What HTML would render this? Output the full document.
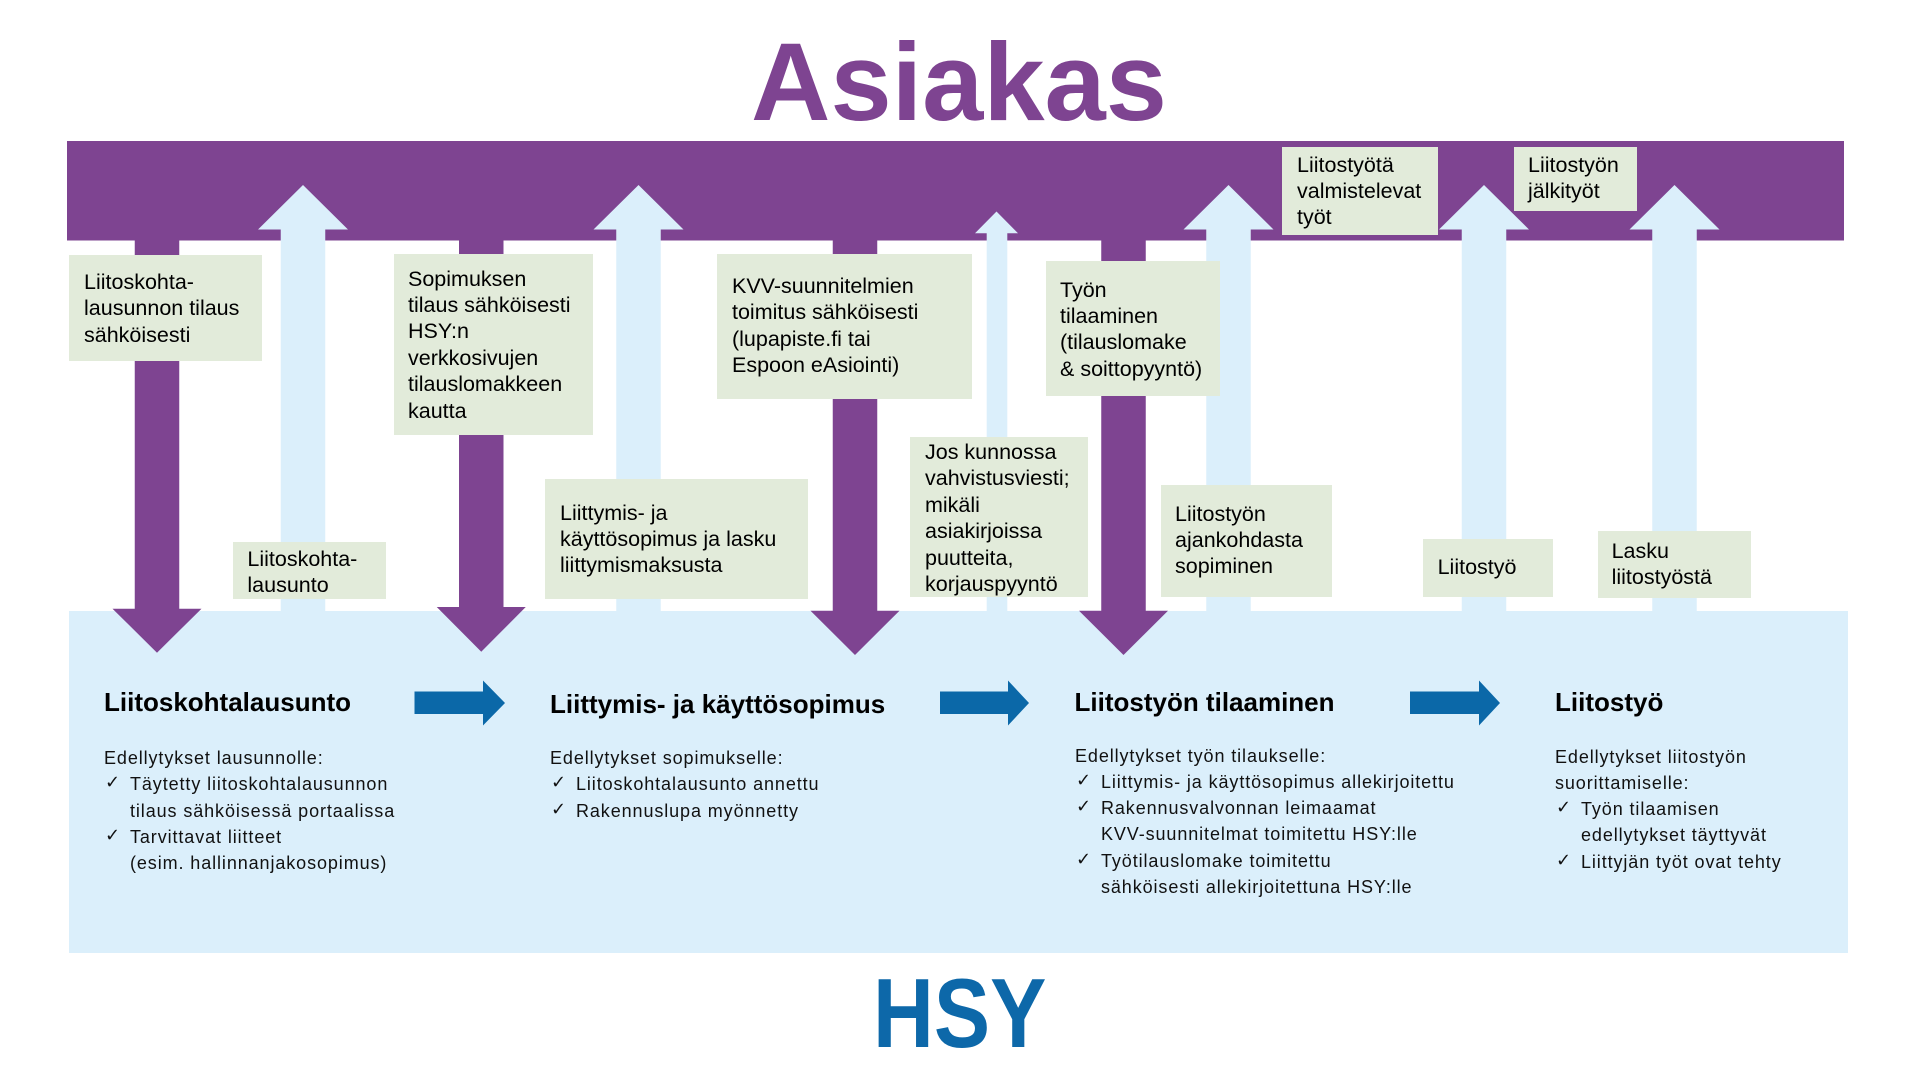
<!DOCTYPE html>
<html>
<head>
<meta charset="utf-8">
<style>
  html, body { margin:0; padding:0; }
  body { width:1920px; height:1080px; position:relative; overflow:hidden; background:#ffffff;
         font-family:"Liberation Sans", Arial, sans-serif; }
  svg.bg { position:absolute; left:0; top:0; }
  .box { position:absolute; background:#e2ebda; }
  .bt { position:absolute; font-size:21.5px; line-height:26.4px; color:#000; white-space:nowrap; }
  .title { position:absolute; font-weight:bold; white-space:nowrap; }
  .h { position:absolute; font-size:26px; line-height:26px; font-weight:bold; color:#000; white-space:nowrap; }
  .sub { position:absolute; font-size:18px; line-height:26.3px; letter-spacing:0.9px; color:#111; white-space:nowrap; }
  .sub div { position:relative; }
  .sub .it { padding-left:26px; }
  .sub .ck { position:absolute; left:1px; top:-1px; font-family:"DejaVu Sans", sans-serif; font-size:18px; font-weight:bold; letter-spacing:0; }
</style>
</head>
<body>
<svg class="bg" width="1920" height="1080" viewBox="0 0 1920 1080">
  <rect x="67" y="141" width="1777" height="99.5" fill="#7e4491"/>
  <rect x="69" y="611" width="1779" height="342" fill="#dbeffb"/>
  <g fill="#dbeffb">
    <polygon points="280.75,612 280.75,229.5 258,229.5 303,185 348,229.5 325.25,229.5 325.25,612"/>
    <polygon points="616.25,612 616.25,229.5 593.5,229.5 638.5,185 683.5,229.5 660.75,229.5 660.75,612"/>
    <polygon points="986.7,612 986.7,233.3 975,233.3 996.5,211.5 1018,233.3 1007.3,233.3 1007.3,612"/>
    <polygon points="1206.25,612 1206.25,229.5 1183.5,229.5 1228.5,185 1273.5,229.5 1250.75,229.5 1250.75,612"/>
    <polygon points="1461.75,612 1461.75,229.5 1439,229.5 1484,185 1529,229.5 1506.25,229.5 1506.25,612"/>
    <polygon points="1652.25,612 1652.25,229.5 1629.5,229.5 1674.5,185 1719.5,229.5 1696.75,229.5 1696.75,612"/>
  </g>
  <g fill="#7e4491">
    <polygon points="134.75,238 179.25,238 179.25,608.7 201.5,608.7 157,652.7 112.5,608.7 134.75,608.7"/>
    <polygon points="459,238 503.5,238 503.5,607 525.75,607 481.25,651.7 436.75,607 459,607"/>
    <polygon points="832.75,238 877.25,238 877.25,610.7 899.5,610.7 855,655 810.5,610.7 832.75,610.7"/>
    <polygon points="1101.25,238 1145.75,238 1145.75,610.7 1168,610.7 1123.5,655 1079,610.7 1101.25,610.7"/>
  </g>
  <g fill="#0b68a8">
    <polygon points="414.5,691.5 483,691.5 483,680.5 505,703 483,725.5 483,714 414.5,714"/>
    <polygon points="940,691.5 1008,691.5 1008,680.5 1029,703 1008,725.5 1008,714 940,714"/>
    <polygon points="1410,691.5 1479,691.5 1479,680.5 1500,703 1479,725.5 1479,714 1410,714"/>
  </g>
</svg>

<div class="title" style="left:751px; top:27.5px; font-size:110px; line-height:110px; color:#7e4491;">Asiakas</div>

<div class="box" style="left:69px; top:255px; width:193px; height:105.5px;"></div>
<div class="box" style="left:394px; top:254px; width:199px; height:181px;"></div>
<div class="box" style="left:717px; top:254px; width:254.5px; height:145px;"></div>
<div class="box" style="left:1045.5px; top:260.7px; width:174px; height:135.3px;"></div>
<div class="box" style="left:1282px; top:147px; width:156px; height:88px;"></div>
<div class="box" style="left:1514px; top:147px; width:123px; height:64px;"></div>
<div class="box" style="left:233px; top:542px; width:153px; height:57px;"></div>
<div class="box" style="left:545px; top:479px; width:263px; height:120px;"></div>
<div class="box" style="left:910px; top:437px; width:178px; height:160px;"></div>
<div class="box" style="left:1161px; top:484.7px; width:171px; height:112px;"></div>
<div class="box" style="left:1423px; top:539px; width:130px; height:58px;"></div>
<div class="box" style="left:1597.5px; top:530.7px; width:153px; height:67px;"></div>

<div class="bt" style="left:84px; top:269px;">Liitoskohta-<br>lausunnon tilaus<br>sähköisesti</div>
<div class="bt" style="left:408px; top:265.5px;">Sopimuksen<br>tilaus sähköisesti<br>HSY:n<br>verkkosivujen<br>tilauslomakkeen<br>kautta</div>
<div class="bt" style="left:732px; top:273px;">KVV-suunnitelmien<br>toimitus sähköisesti<br>(lupapiste.fi tai<br>Espoon eAsiointi)</div>
<div class="bt" style="left:1060px; top:276.5px;">Työn<br>tilaaminen<br>(tilauslomake<br>&amp; soittopyyntö)</div>
<div class="bt" style="left:1297px; top:151.5px;">Liitostyötä<br>valmistelevat<br>työt</div>
<div class="bt" style="left:1528px; top:151.5px;">Liitostyön<br>jälkityöt</div>
<div class="bt" style="left:247.4px; top:545.5px;">Liitoskohta-<br>lausunto</div>
<div class="bt" style="left:560px; top:499.5px;">Liittymis- ja<br>käyttösopimus ja lasku<br>liittymismaksusta</div>
<div class="bt" style="left:925px; top:439px;">Jos kunnossa<br>vahvistusviesti;<br>mikäli<br>asiakirjoissa<br>puutteita,<br>korjauspyyntö</div>
<div class="bt" style="left:1175px; top:500.5px;">Liitostyön<br>ajankohdasta<br>sopiminen</div>
<div class="bt" style="left:1437.6px; top:554px;">Liitostyö</div>
<div class="bt" style="left:1611.6px; top:538px;">Lasku<br>liitostyöstä</div>

<div class="h" style="left:104px; top:689.3px;">Liitoskohtalausunto</div>
<div class="h" style="left:550px; top:691px;">Liittymis- ja käyttösopimus</div>
<div class="h" style="left:1074.5px; top:688.6px;">Liitostyön tilaaminen</div>
<div class="h" style="left:1555px; top:688.6px;">Liitostyö</div>

<div class="sub" style="left:104px; top:745px;">
  <div>Edellytykset lausunnolle:</div>
  <div class="it"><span class="ck">✓</span>Täytetty liitoskohtalausunnon</div>
  <div class="it">tilaus sähköisessä portaalissa</div>
  <div class="it"><span class="ck">✓</span>Tarvittavat liitteet</div>
  <div class="it">(esim. hallinnanjakosopimus)</div>
</div>
<div class="sub" style="left:550px; top:745px;">
  <div>Edellytykset sopimukselle:</div>
  <div class="it"><span class="ck">✓</span>Liitoskohtalausunto annettu</div>
  <div class="it"><span class="ck">✓</span>Rakennuslupa myönnetty</div>
</div>
<div class="sub" style="left:1075px; top:742.5px;">
  <div>Edellytykset työn tilaukselle:</div>
  <div class="it"><span class="ck">✓</span>Liittymis- ja käyttösopimus allekirjoitettu</div>
  <div class="it"><span class="ck">✓</span>Rakennusvalvonnan leimaamat</div>
  <div class="it">KVV-suunnitelmat toimitettu HSY:lle</div>
  <div class="it"><span class="ck">✓</span>Työtilauslomake toimitettu</div>
  <div class="it">sähköisesti allekirjoitettuna HSY:lle</div>
</div>
<div class="sub" style="left:1555px; top:743.5px;">
  <div>Edellytykset liitostyön</div>
  <div>suorittamiselle:</div>
  <div class="it"><span class="ck">✓</span>Työn tilaamisen</div>
  <div class="it">edellytykset täyttyvät</div>
  <div class="it"><span class="ck">✓</span>Liittyjän työt ovat tehty</div>
</div>

<div class="title" style="left:873px; top:964px; font-size:98px; line-height:98px; color:#0d68a9; transform:scaleX(0.86); transform-origin:left top;">HSY</div>
</body>
</html>
